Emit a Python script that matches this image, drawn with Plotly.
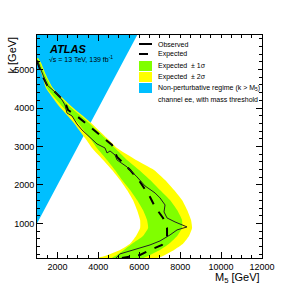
import plotly.graph_objects as go

# ---------------- data ----------------
# k levels (GeV) for the expected-limit bands
band_k = [5300, 5170, 4860, 4520, 4080, 3640, 3220, 2960, 2650, 2390, 2130,
          1870, 1610, 1350, 1090, 880, 670, 470, 310, 180, 100]
# M5 edges (GeV) of the bands at each k
band2_lo = [950, 1050, 1250, 1440, 2030, 2760, 3350, 3690, 4230, 4670, 5060,
            5400, 5690, 5890, 6040, 6040, 5840, 5550, 5060, 4470, 3980]
band1_lo = [980, 1070, 1290, 1490, 2170, 2960, 3590, 3930, 4420, 4810, 5160,
            5550, 5890, 6180, 6380, 6430, 6180, 5650, 5250, 4910, 4670]
band1_hi = [1020, 1150, 1390, 1730, 2520, 3490, 4330, 4810, 5400, 5990, 6530,
            7010, 7500, 7850, 8090, 8090, 7850, 7460, 7010, 6530, 6180]
band2_hi = [1050, 1200, 1440, 1780, 2610, 3590, 4420, 4910, 5840, 6720, 7260,
            7700, 8090, 8340, 8530, 8580, 8430, 8140, 7700, 7260, 6870]

exp_m5 = [1000, 1245, 1489, 1880, 2369, 2516, 3005, 3494, 4081, 4668, 4912,
          5548, 6037, 6526, 6770, 7161, 7357, 7357, 7113, 6526, 6037, 5150]
exp_k = [5230, 4860, 4600, 4418, 4158, 3950, 3768, 3560, 3300, 3040, 2728,
         2390, 2078, 1688, 1428, 1142, 882, 648, 440, 310, 180, 100]

obs_m5 = [1000, 1245, 1391, 1489, 1880, 2223, 2369, 2467, 2712, 2956, 3201,
          3592, 3934, 4325, 4423, 4570, 4814, 4912, 5401, 5890, 6281, 6770,
          7015, 7259, 7210, 7357, 7748, 8335, 7846, 7504, 7259, 7015, 6526,
          6037, 5548, 5059, 4864]
obs_k = [5250, 4938, 4730, 4600, 4418, 4210, 4080, 3872, 3794, 3586, 3430,
         3222, 3066, 2962, 2832, 2884, 2780, 2650, 2468, 2208, 1974, 1792,
         1662, 1480, 1298, 1142, 1038, 908, 830, 700, 622, 544, 440,
         362, 284, 206, 102]

# non-perturbative regime k > M5
npr_m5 = [1000, 5900, 1000]
npr_k = [1000, 5900, 5900]

x_ticks = [2000, 4000, 6000, 8000, 10000, 12000]
y_ticks = [1000, 2000, 3000, 4000, 5000]

BLUE = "#00BFFF"
GREEN = "#80FF00"
YELLOW = "#FFFF00"
FONT = "Liberation Sans, Arial, Helvetica, sans-serif"

fig = go.Figure()

fig.add_trace(go.Scatter(x=npr_m5, y=npr_k, fill="toself", fillcolor=BLUE,
                         mode="lines", line=dict(width=0), hoverinfo="skip",
                         showlegend=False))
fig.add_trace(go.Scatter(x=band2_lo + band2_hi[::-1], y=band_k + band_k[::-1],
                         fill="toself", fillcolor=YELLOW, mode="lines",
                         line=dict(width=0, shape="spline", smoothing=0.5),
                         showlegend=False))
fig.add_trace(go.Scatter(x=band1_lo + band1_hi[::-1], y=band_k + band_k[::-1],
                         fill="toself", fillcolor=GREEN, mode="lines",
                         line=dict(width=0, shape="spline", smoothing=0.5),
                         showlegend=False))
fig.add_trace(go.Scatter(x=exp_m5, y=exp_k, mode="lines",
                         line=dict(color="black", width=2, dash="dash"),
                         showlegend=False))
fig.add_trace(go.Scatter(x=obs_m5, y=obs_k, mode="lines",
                         line=dict(color="#222222", width=1),
                         showlegend=False))

# ---------------- manual legend ----------------
L = 37.0; R = 262.0; T = 35.0; B = 258.0
def px(x):
    return (x - L) / (R - L)
def py(y):
    return (B - y) / (B - T)

shapes = []
shapes.append(dict(type="rect", xref="paper", yref="paper",
                   x0=px(138), x1=px(258), y0=py(104), y1=py(38),
                   fillcolor="white", line=dict(width=0), layer="above"))
shapes.append(dict(type="line", xref="paper", yref="paper",
                   x0=px(139), x1=px(152), y0=py(44), y1=py(44),
                   line=dict(color="black", width=2)))
shapes.append(dict(type="line", xref="paper", yref="paper",
                   x0=px(139), x1=px(152), y0=py(54), y1=py(54),
                   line=dict(color="black", width=2, dash="dash")))
for yc, col in [(66, GREEN), (77, YELLOW), (88, BLUE)]:
    shapes.append(dict(type="rect", xref="paper", yref="paper",
                       x0=px(139), x1=px(152), y0=py(yc + 5), y1=py(yc - 5),
                       fillcolor=col, line=dict(width=0)))

leg_texts = ["Observed", "Expected", "Expected  \u00b1 1\u03c3",
             "Expected  \u00b1 2\u03c3",
             "Non-perturbative regime (k > M<sub>5</sub>)",
             "channel ee, with mass threshold"]
leg_y = [44, 54, 66, 77, 88, 99]

annotations = []
for t, yy in zip(leg_texts, leg_y):
    annotations.append(dict(text=t, xref="paper", yref="paper", x=px(156),
                            y=py(yy), xanchor="left", yanchor="middle",
                            showarrow=False,
                            font=dict(family=FONT, size=7, color="black")))

annotations.append(dict(text="<b><i>ATLAS</i></b>", xref="paper", yref="paper",
                        x=px(47), y=py(49), xanchor="left", yanchor="middle",
                        showarrow=False,
                        font=dict(family=FONT, size=11, color="black")))
annotations.append(dict(text="\u221as = 13 TeV, 139 fb<sup>-1</sup>",
                        xref="paper", yref="paper", x=px(47), y=py(59),
                        xanchor="left", yanchor="middle", showarrow=False,
                        font=dict(family=FONT, size=7, color="black")))
annotations.append(dict(text="M<sub>5</sub> [GeV]", xref="paper", yref="paper",
                        x=1.0, y=py(278), xanchor="right", yanchor="middle",
                        showarrow=False,
                        font=dict(family=FONT, size=11, color="black")))
annotations.append(dict(text="k [GeV]", xref="paper", yref="paper",
                        x=px(11), y=1.0, xanchor="center", yanchor="top",
                        textangle=-90, showarrow=False,
                        font=dict(family=FONT, size=11, color="black")))

axis_common = dict(showgrid=False, zeroline=False, ticks="inside", ticklen=6,
                   tickwidth=1, tickcolor="black", showline=True,
                   linecolor="black", linewidth=1, mirror="allticks",
                   tickfont=dict(family=FONT, size=9, color="black"))

fig.update_layout(
    width=291, height=291,
    margin=dict(l=37, r=29, t=35, b=33),
    paper_bgcolor="white", plot_bgcolor="white",
    showlegend=False,
    shapes=shapes,
    annotations=annotations,
    xaxis=dict(range=[1000, 12000], tickvals=x_ticks,
               ticktext=[str(v) for v in x_ticks],
               minor=dict(dtick=500, tick0=0, ticks="inside", ticklen=3,
                          tickcolor="black"),
               **axis_common),
    yaxis=dict(range=[100, 5900], tickvals=y_ticks,
               ticktext=[str(v) for v in y_ticks],
               minor=dict(dtick=200, tick0=0, ticks="inside", ticklen=3,
                          tickcolor="black"),
               **axis_common),
)

fig.write_html("out.html", config={"displayModeBar": False},
               post_script="document.body.style.margin='0px';")
